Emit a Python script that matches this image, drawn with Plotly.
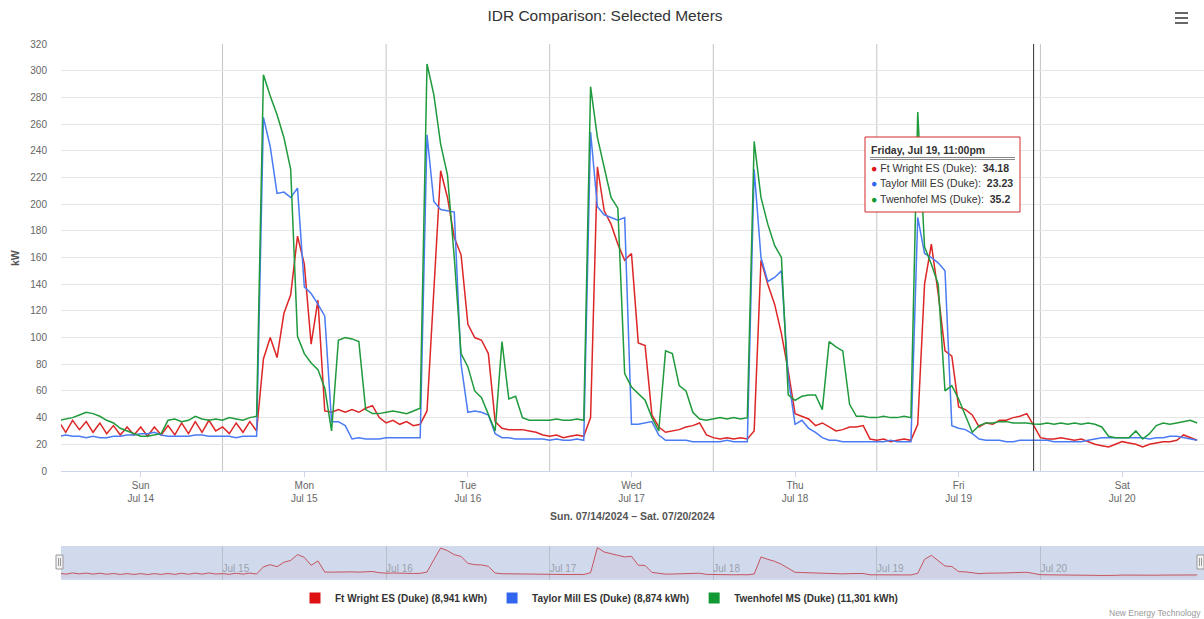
import pandas as pd
import plotly.graph_objects as go

# ---------------- data (hourly kW readings, Sun 07/14/2024 - Sat 07/20/2024) ----------------
start_time = "2024-07-14 00:00"

ft_wright = [
    37, 29, 38, 31, 37, 29, 36, 28, 34, 27, 33, 27, 33, 26, 33, 27, 34, 27, 36, 28, 37, 29, 38, 30,
    33, 28, 36, 29, 37, 30, 84, 100, 85, 118, 132, 176, 155, 95, 128, 45, 44, 46, 44, 46, 44, 47, 49, 40,
    36, 38, 35, 37, 34, 35, 45, 137, 225, 205, 175, 162, 110, 100, 98, 88, 37, 32, 31, 31, 31, 30, 29, 27,
    26, 27, 25, 26, 27, 26, 40, 228, 195, 185, 170, 158, 163, 96, 94, 42, 33, 29, 30, 31, 33, 34, 36, 27,
    25, 24, 25, 24, 25, 24, 30, 158, 140, 125, 103, 75, 43, 41, 39, 34, 36, 33, 30, 31, 33, 33, 34, 24,
    23, 24, 22, 23, 24, 23, 35, 140, 170, 133, 90, 86, 48, 46, 42, 33, 36, 35, 38, 38, 40, 41, 43, 34.18,
    25, 24, 24, 25, 24, 23, 24, 22, 20, 19, 18, 20, 22, 21, 20, 18, 20, 21, 22, 22, 23, 27, 25, 23,
]
taylor_mill = [
    26, 27, 26, 26, 25, 26, 25, 25, 26, 26, 27, 27, 28, 28, 29, 27, 26, 26, 26, 26, 27, 27, 26, 26,
    26, 26, 25, 26, 26, 26, 265, 243, 208, 209, 205, 212, 138, 133, 125, 116, 37, 37, 34, 24, 25, 24, 24, 24,
    25, 25, 25, 25, 25, 25, 252, 202, 196, 195, 194, 80, 44, 45, 44, 42, 28, 25, 25, 24, 24, 24, 24, 24,
    23, 24, 23, 23, 24, 23, 254, 198, 192, 190, 188, 190, 35, 35, 36, 37, 27, 23, 23, 23, 23, 22, 22, 22,
    22, 22, 23, 22, 22, 22, 226, 160, 142, 145, 150, 70, 35, 38, 32, 29, 25, 23, 23, 22, 22, 22, 22, 22,
    22, 22, 23, 22, 22, 22, 190, 163, 160, 156, 150, 34, 32, 31, 28, 24, 23, 23, 23, 22, 22, 23, 23, 23.23,
    23, 23, 22, 22, 22, 22, 22, 23, 24, 25, 25, 25, 25, 25, 25, 25, 24, 25, 25, 26, 26, 25, 24, 23,
]
twenhofel = [
    38, 39, 40, 42, 44, 43, 41, 38, 36, 32, 30, 28, 26, 26, 27, 28, 38, 39, 37, 38, 41, 39, 38, 39,
    38, 40, 39, 38, 40, 41, 297, 281, 267, 250, 226, 101, 88, 81, 76, 62, 30, 98, 100, 99, 97, 46, 43, 43,
    44, 45, 44, 43, 45, 47, 305, 282, 245, 222, 160, 88, 78, 60, 55, 42, 30, 97, 54, 56, 40, 38, 38, 38,
    38, 39, 38, 38, 39, 38, 288, 250, 227, 205, 197, 73, 63, 58, 53, 40, 30, 90, 88, 64, 60, 44, 39, 38,
    39, 40, 39, 40, 39, 40, 247, 205, 185, 169, 160, 57, 53, 56, 57, 57, 46, 97, 93, 90, 50, 41, 41, 40,
    40, 41, 40, 40, 41, 40, 269, 168, 155, 140, 60, 64, 54, 42, 29, 34, 36, 36, 37, 37, 36, 36, 36, 35.2,
    35, 36, 35, 36, 35, 36, 35, 36, 35, 33, 26, 25, 25, 25, 30, 24, 28, 34, 36, 35, 36, 37, 38, 36,
]

series_names = ["Ft Wright ES (Duke)", "Taylor Mill ES (Duke)", "Twenhofel MS (Duke)"]
series_kwh = ["8,941", "8,874", "11,301"]
series_values = [ft_wright, taylor_mill, twenhofel]
line_colors = ["#dd2626", "#4a7bf3", "#1f9a3c"]
legend_colors = ["#dd1111", "#3366ee", "#119933"]

day_labels = ["Sun<br>Jul 14", "Mon<br>Jul 15", "Tue<br>Jul 16", "Wed<br>Jul 17",
              "Thu<br>Jul 18", "Fri<br>Jul 19", "Sat<br>Jul 20"]
nav_labels = ["Jul 15", "Jul 16", "Jul 17", "Jul 18", "Jul 19", "Jul 20"]
y_ticks = list(range(0, 321, 20))

tooltip_time = "2024-07-19 23:00"
tooltip_header = "Friday, Jul 19, 11:00pm"
tooltip_values = ["34.18", "23.23", "35.2"]

title_text = "IDR Comparison: Selected Meters"
x_title = "Sun. 07/14/2024 \u2013 Sat. 07/20/2024"
credit_text = "New Energy Technology"

# ---------------- derived ----------------
times = pd.date_range(start_time, periods=len(ft_wright), freq="h")
noons = pd.date_range("2024-07-14 12:00", periods=len(day_labels), freq="D")
midnights = pd.date_range("2024-07-15 00:00", periods=len(nav_labels), freq="D")
x_range = [pd.Timestamp("2024-07-14 00:18"), pd.Timestamp("2024-07-21 00:00")]

W, H = 1204, 619
ML, MR, MT, MB = 61, 0, 44, 39
PW, PH = W - ML - MR, H - MT - MB


def px(xp):
    """page pixel x -> paper x"""
    return (xp - ML) / PW


def py(yp):
    """page pixel y -> paper y"""
    return (H - MB - yp) / PH


FONT = "Liberation Sans, Arial, sans-serif"

fig = go.Figure()

for name, vals, col in zip(series_names, series_values, line_colors):
    fig.add_trace(go.Scatter(x=times, y=vals, mode="lines", name=name,
                             line=dict(color=col, width=1.5), showlegend=False,
                             hoverinfo="skip", xaxis="x", yaxis="y"))

# navigator series (first series)
fig.add_trace(go.Scatter(x=times, y=ft_wright, mode="lines", showlegend=False,
                         line=dict(color="rgba(196,70,80,0.9)", width=1),
                         fill="tozeroy", fillcolor="rgba(200,60,70,0.05)",
                         hoverinfo="skip", xaxis="x2", yaxis="y2"))

# legend entries
for name, kwh, col in zip(series_names, series_kwh, legend_colors):
    fig.add_trace(go.Scatter(x=[None], y=[None], mode="markers",
                             marker=dict(symbol="square", size=11, color=col),
                             name=f"<b>{name} ({kwh} kWh)</b>", showlegend=True))

shapes = []
# midnight day separators
for m in midnights:
    shapes.append(dict(type="line", xref="x", yref="y domain", x0=m, x1=m, y0=0, y1=1,
                       line=dict(color="#c4c4c4", width=1), layer="below"))
# crosshair
shapes.append(dict(type="line", xref="x", yref="y domain", x0=tooltip_time, x1=tooltip_time,
                   y0=0, y1=1, line=dict(color="#333333", width=1), layer="above"))
# navigator mask
shapes.append(dict(type="rect", xref="paper", yref="y2 domain", x0=0, x1=1, y0=0, y1=1,
                   fillcolor="#d1daec", line=dict(width=0), layer="below"))
# navigator handles
for hx in (59.5, 1200.5):
    shapes.append(dict(type="rect", xref="paper", yref="paper",
                       x0=px(hx - 3.5), x1=px(hx + 3.5), y0=py(569), y1=py(555),
                       fillcolor="#f2f2f2", line=dict(color="#999999", width=1), layer="above"))
    for dx in (-1, 1):
        shapes.append(dict(type="line", xref="paper", yref="paper",
                           x0=px(hx + dx), x1=px(hx + dx), y0=py(566), y1=py(558),
                           line=dict(color="#999999", width=1), layer="above"))
# tooltip box
shapes.append(dict(type="rect", xref="paper", yref="paper", x0=px(865), x1=px(1020),
                   y0=py(212), y1=py(137), fillcolor="rgba(255,255,255,0.96)",
                   line=dict(color="#d42a2a", width=1), layer="above"))
for ly in (157.5, 159.5):
    shapes.append(dict(type="line", xref="paper", yref="paper", x0=px(870), x1=px(1015),
                       y0=py(ly), y1=py(ly), line=dict(color="#8a8a8a", width=1), layer="above"))
# menu icon
for my in (13, 18, 23):
    shapes.append(dict(type="line", xref="paper", yref="paper", x0=px(1175), x1=px(1188),
                       y0=py(my), y1=py(my), line=dict(color="#666666", width=2), layer="above"))

annotations = []
annotations.append(dict(text="<b>kW</b>", xref="paper", yref="paper", x=px(15), y=py(258),
                        xanchor="center", yanchor="middle", textangle=-90, showarrow=False,
                        font=dict(family=FONT, size=10.5, color="#555555")))
annotations.append(dict(text=f"<b>{x_title}</b>", xref="paper", yref="paper", x=0.5, y=py(516),
                        xanchor="center", yanchor="middle", showarrow=False,
                        font=dict(family=FONT, size=10.5, color="#555555")))
annotations.append(dict(text=credit_text, xref="paper", yref="paper", x=px(1203), y=py(613),
                        xanchor="right", yanchor="middle", showarrow=False,
                        font=dict(family=FONT, size=8.5, color="#999999")))
annotations.append(dict(text=f"<b>{tooltip_header}</b>", xref="paper", yref="paper",
                        x=px(869), y=py(150), xanchor="left", yanchor="middle", showarrow=False,
                        font=dict(family=FONT, size=10.5, color="#333333")))
for i, (name, val, col) in enumerate(zip(series_names, tooltip_values, legend_colors)):
    annotations.append(dict(
        text=f"<span style='color:{col}'>\u25cf</span> {name}:  <b>{val}</b>",
        xref="paper", yref="paper", x=px(869), y=py(168 + i * 15.5), xanchor="left",
        yanchor="middle", showarrow=False, font=dict(family=FONT, size=10.5, color="#333333")))

fig.update_layout(
    width=W, height=H,
    margin=dict(l=ML, r=MR, t=MT, b=MB, pad=0),
    paper_bgcolor="white", plot_bgcolor="white",
    font=dict(family=FONT, size=10, color="#666666"),
    title=dict(text=title_text, x=605 / W, xref="container", xanchor="center",
               y=1 - 16 / H, yref="container", yanchor="middle",
               font=dict(family=FONT, size=15.5, color="#333333")),
    xaxis=dict(domain=[0, 1], anchor="y", range=x_range, tickvals=noons, ticktext=day_labels,
               showgrid=False, zeroline=False, showline=True, linecolor="#ccd6eb",
               ticks="outside", ticklen=5, tickcolor="#ccd6eb",
               tickfont=dict(family=FONT, size=10, color="#666666")),
    yaxis=dict(domain=[py(471), 1], anchor="x", range=[0, 320], tickvals=y_ticks,
               showgrid=True, gridcolor="#e6e6e6", zeroline=False,
               ticks="outside", ticklen=11, tickcolor="rgba(0,0,0,0)",
               tickfont=dict(family=FONT, size=10, color="#666666")),
    xaxis2=dict(domain=[0, 1], anchor="y2", range=x_range, tickvals=midnights, ticktext=nav_labels,
                showgrid=True, gridcolor="#b9bfcc", zeroline=False, showline=False,
                ticks="", ticklabelposition="inside right",
                tickfont=dict(family=FONT, size=10, color="#9aa0ac")),
    yaxis2=dict(domain=[0, py(546)], anchor="x2", range=[-15, 240], showgrid=False,
                zeroline=False, showticklabels=False, ticks=""),
    showlegend=True,
    legend=dict(orientation="h", x=px(599), xanchor="center", y=py(598), yanchor="middle",
                font=dict(family=FONT, size=10, color="#333333"),
                itemclick=False, itemdoubleclick=False, bgcolor="rgba(0,0,0,0)",
                tracegroupgap=0, itemwidth=30),
    shapes=shapes,
    annotations=annotations,
    hovermode=False,
)

# the page's default 8px body margin would shift the fixed-size chart; remove it
fig.write_html(
    "out.html",
    config={"displayModeBar": False},
    post_script="document.body.style.margin='0';document.body.style.overflow='hidden';",
)
